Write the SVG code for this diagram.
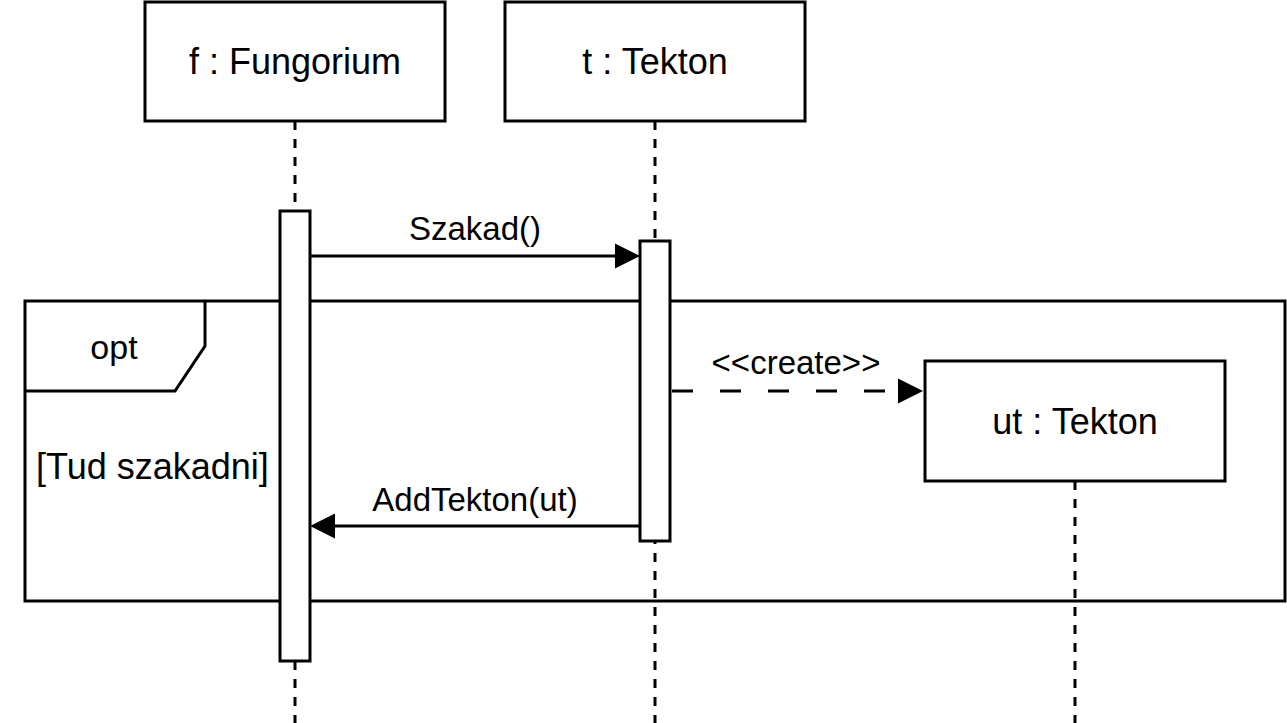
<svg xmlns="http://www.w3.org/2000/svg" width="1287" height="723" viewBox="0 0 1287 723">
<style>
.box{fill:#fff;stroke:#000;stroke-width:3}
.life{fill:none;stroke:#000;stroke-width:3;stroke-dasharray:9 9}
.act{fill:#fff;stroke:#000;stroke-width:3}
.frame{fill:none;stroke:#000;stroke-width:3}
.msg{fill:none;stroke:#000;stroke-width:3}
.dash{stroke-dasharray:21 27}
text{font-family:"Liberation Sans",Arial,sans-serif;font-size:33px;fill:#000}
.big{font-size:36px}
.c{text-anchor:middle}
</style>
<defs>
<marker id="arr" markerUnits="userSpaceOnUse" markerWidth="26" markerHeight="26" refX="0" refY="12.5" orient="auto" overflow="visible">
<path d="M0,0 L25,12.5 L0,25 Z" fill="#000"/>
</marker>
</defs>
<g id="lifelines">
<line class="life" x1="295" y1="121" x2="295" y2="723"/>
<line class="life" x1="655" y1="121" x2="655" y2="723"/>
<line class="life" x1="1075" y1="481" x2="1075" y2="723"/>
</g>
<g id="frame-opt">
<rect class="frame" x="25" y="301" width="1260" height="300"/>
<path class="frame" d="M25,391 L175,391 L205,346 L205,301"/>
<text class="c" x="114" y="359" style="font-size:34px">opt</text>
<text class="big" x="36" y="479">[Tud szakadni]</text>
</g>
<g id="node-f">
<rect class="box" x="145" y="2" width="300" height="119"/>
<text class="c big" x="295" y="74">f : Fungorium</text>
</g>
<g id="node-t">
<rect class="box" x="505" y="2" width="300" height="119"/>
<text class="c big" x="655" y="74">t : Tekton</text>
</g>
<g id="node-ut">
<rect class="box" x="925" y="361" width="300" height="120"/>
<text class="c big" x="1075" y="434">ut : Tekton</text>
</g>
<g id="activation-f">
<rect class="act" x="280" y="211" width="30" height="450"/>
</g>
<g id="activation-t">
<rect class="act" x="640" y="241" width="30" height="300"/>
</g>
<g id="connectors">
<line class="msg" x1="310" y1="256" x2="615" y2="256" marker-end="url(#arr)"/>
<text class="c" x="475" y="240">Szakad()</text>
<line class="msg dash" x1="672" y1="391" x2="898" y2="391" marker-end="url(#arr)"/>
<text class="c" x="796" y="374">&lt;&lt;create&gt;&gt;</text>
<line class="msg" x1="640" y1="526" x2="335" y2="526" marker-end="url(#arr)"/>
<text class="c" x="475" y="511">AddTekton(ut)</text>
</g>
</svg>
